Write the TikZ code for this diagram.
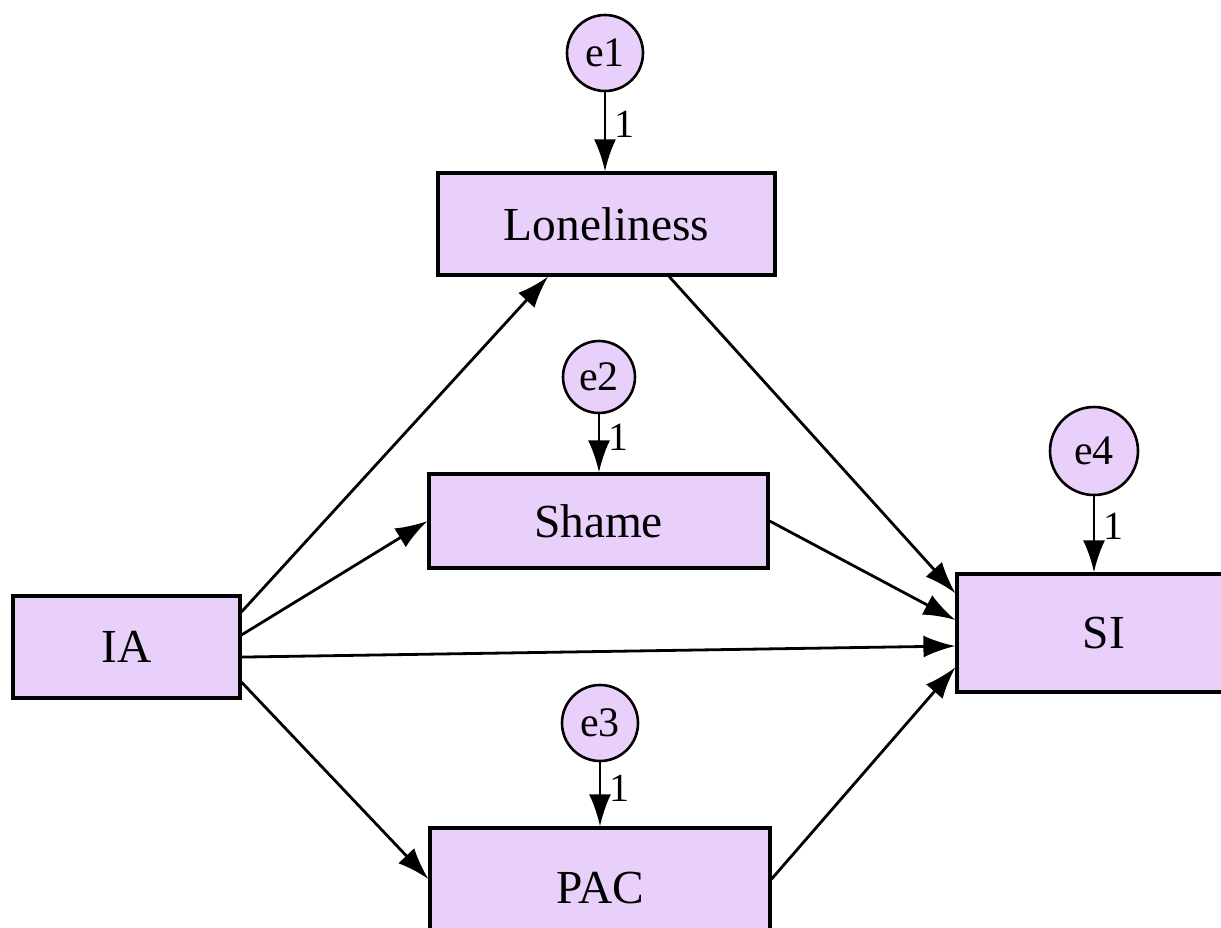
\documentclass[tikz,border=0pt]{standalone}
\usepackage{fontspec}
\setmainfont{Liberation Serif}
\usetikzlibrary{arrows.meta}
\definecolor{boxfill}{RGB}{232,208,250}

\begin{document}
\begin{tikzpicture}[
			x=0.5pt, y=-0.5pt,
			var/.style={
					draw,
					line width=1.6pt,
					fill=boxfill,
					inner sep=0pt,
					font=\fontsize{23.7}{28}\selectfont
				},
			err/.style={
					circle,
					draw,
					line width=1.3pt,
					fill=boxfill,
					inner sep=0pt,
					font=\fontsize{21}{25}\selectfont
				},
			link/.style={
					line width=1.4pt,
					-{Latex[length=16pt, width=11pt]}
				},
			lbl/.style={
					right,
					inner sep=4pt,
					font=\fontsize{20}{24}\selectfont
				}
		]
		\clip (0, 0) rectangle (1221, 927);

		% observed variables
		\node[var, minimum width=113.5pt, minimum height=51pt] (IA) at (126.5, 647) {IA};
		\node[var, minimum width=168.5pt, minimum height=51pt] (Lon) at (606.5, 224) {Loneliness};
		\node[var, minimum width=169.5pt, minimum height=47pt] (Sha) at (598.5, 521) {Shame};
		\node[var, minimum width=170pt, minimum height=60pt] (PAC) at (600, 888) {PAC};
		\node[var, minimum width=147pt, minimum height=59pt] (SI) at (1104, 633) {SI};

		% error terms
		\node[err, minimum size=38pt] (e1) at (605, 53) {e1};
		\node[err, minimum size=36pt] (e2) at (599, 377) {e2};
		\node[err, minimum size=38pt] (e3) at (600, 723) {e3};
		\node[err, minimum size=44pt] (e4) at (1094, 451) {e4};

		\draw[link] (e1) -- (e1 |- Lon.north) node[lbl, pos=0.4] {1};
		\draw[link] (e2) -- (e2 |- Sha.north) node[lbl, pos=0.4] {1};
		\draw[link] (e3) -- (e3 |- PAC.north) node[lbl, pos=0.4] {1};
		\draw[link] (e4) -- (e4 |- SI.north) node[lbl, pos=0.4] {1};

		% paths
		\draw[link] (IA.17) -- (Lon.222);
		\draw[link] (IA.6) -- (Sha.west);
		\draw[link] (IA.-5.5) -- (SI.185.4);
		\draw[link] (IA.-17) -- (PAC.177.3);
		\draw[link] (Lon.-40) -- (SI.165.5);
		\draw[link] (Sha.east) -- (SI.175);
		\draw[link] (PAC.3) -- (SI.193.4);
	\end{tikzpicture}
\end{document}
